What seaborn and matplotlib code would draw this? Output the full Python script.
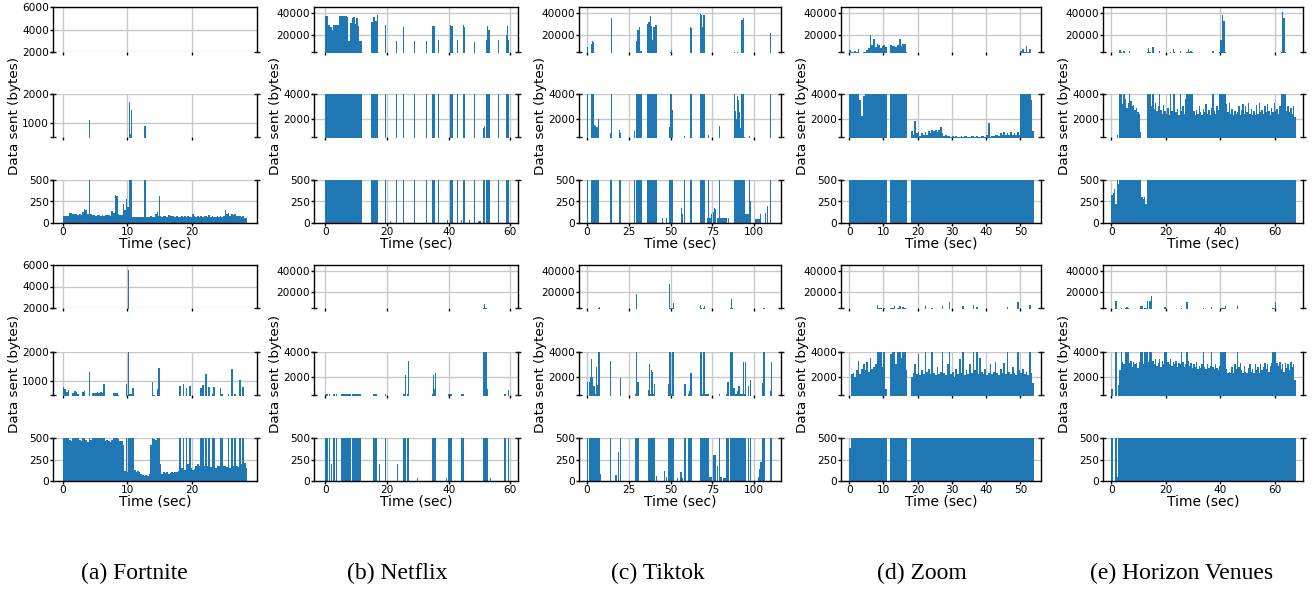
import numpy as np
import matplotlib
matplotlib.use("Agg")
import matplotlib.pyplot as plt
import seaborn as sns

# ======================= DATA =======================
# --- (a) Fortnite: bytes per 0.25 s bin, plus a few narrow spikes ---
fortnite_dt = 0.25
fortnite_r1 = [
    80, 85, 80, 85,   120, 115, 100, 105,   110, 95, 100, 90,   130, 160, 150, 100,
    95, 100, 90, 95,  85, 90, 95, 85,       90, 85, 90, 95,     90, 85, 140, 120,
    320, 310, 100, 90, 95, 220, 150, 280,   190, 600, 600, 70,  65, 70, 65, 70,
    70, 65, 70, 70,   75, 70, 80, 70,       75, 100, 130, 80,   80, 75, 85, 80,
    75, 90, 80, 85,   80, 75, 80, 70,       75, 80, 70, 80,     75, 80, 70, 75,
    100, 80, 75, 80,  70, 80, 75, 85,       80, 70, 90, 75,     80, 75, 70, 80,
    75, 80, 70, 85,   150, 100, 120, 80,    110, 90, 100, 80,   85, 80, 75, 80,
    60, 55]
fortnite_r1_spk_start = [4.0, 10.2, 10.55, 12.6, 14.8]
fortnite_r1_spk_end = [4.2, 10.4, 10.75, 12.8, 15.0]
fortnite_r1_spk_val = [1100, 1720, 1450, 870, 310]

fortnite_r2 = [
    780, 700, 620, 680,   480, 470, 560, 650,   600, 550, 480, 470,   620, 640, 480, 450,
    1300, 480, 560, 580,  560, 600, 570, 590,   580, 900, 460, 480,   470, 450, 480, 570,
    560, 580, 490, 470,   470, 420, 120, 880,   100, 520, 520, 750,   130, 110, 120, 100,
    80, 70, 60, 70,       60, 80, 420, 960,     490, 480, 700, 1450,  200, 80, 100, 90,
    100, 80, 90, 100,     90, 100, 110, 120,    820, 150, 880, 130,   760, 200, 830, 150,
    130, 140, 180, 200,   170, 760, 850, 180,   1230, 180, 790, 160,  520, 780, 150, 180,
    170, 760, 520, 170,   180, 160, 520, 150,   1400, 180, 520, 170,  160, 1030, 200, 780,
    210, 150]
fortnite_r2_spk_start = [10.1]
fortnite_r2_spk_end = [10.3]
fortnite_r2_spk_val = [5500]

# --- (b) Netflix: bursts (start s, end s, bytes) ---
netflix_r1_start = [0.0, 1.0, 1.5, 2.0, 2.5, 4.5, 5.0, 7.0, 7.3, 8.0, 8.5, 9.0, 9.5, 10.0, 10.5, 11.0,
                    14.9, 15.5, 16.2, 16.6, 19.2, 21.1, 23.0, 25.2, 27.0, 27.3, 28.7, 30.3, 30.9, 32.7,
                    34.7, 36.7, 39.6, 40.3, 40.8, 42.7, 44.1, 44.6, 44.9, 46.7, 48.1, 49.5, 51.3, 51.6,
                    52.2, 52.5, 52.9, 56.0, 58.7, 59.0, 59.3]
netflix_r1_end = [1.0, 1.5, 2.0, 2.5, 4.5, 5.0, 7.0, 7.3, 8.0, 8.5, 9.0, 9.5, 10.0, 10.5, 11.0, 12.0,
                  15.5, 16.2, 16.6, 17.1, 19.8, 21.2, 23.3, 25.6, 27.15, 27.4, 29.0, 30.5, 31.1, 33.0,
                  35.7, 37.0, 39.7, 40.8, 41.3, 43.0, 44.2, 44.9, 45.2, 46.9, 48.4, 50.6, 51.5, 51.9,
                  52.5, 52.9, 53.3, 56.3, 59.0, 59.3, 59.5]
netflix_r1_val = [37000, 29000, 27000, 24000, 29000, 37000, 37500, 36000, 14000, 31000, 35000, 36000,
                  30000, 35000, 28000, 14000, 32000, 36000, 33000, 38000, 29000, 20, 14000, 27000, 900,
                  50, 14000, 30, 30, 14000, 28000, 15000, 30, 29000, 28000, 15000, 30, 29000, 27000, 30,
                  13000, 25, 1200, 1400, 15000, 28000, 24000, 15000, 20000, 28000, 15000]

netflix_r2_start = [0.0, 1.3, 1.8, 2.5, 3.5, 4.6, 4.9, 5.2, 8.5, 9.6, 10.6, 15.5, 17.4, 19.3, 19.9, 23.2,
                    25.3, 25.9, 26.4, 26.8, 29.8, 33.8, 34.7, 35.0, 35.2, 35.5, 39.1, 39.9, 43.6, 44.0,
                    45.2, 51.1, 51.5, 51.7, 52.4, 53.4, 58.1, 59.1]
netflix_r2_end = [0.9, 1.5, 2.2, 3.0, 3.7, 4.8, 5.2, 8.4, 9.5, 10.5, 11.7, 16.8, 17.6, 19.8, 20.0, 23.4,
                  25.9, 26.1, 26.8, 27.1, 29.9, 34.0, 35.0, 35.2, 35.5, 35.8, 39.3, 41.0, 43.8, 45.1,
                  45.4, 51.5, 51.7, 52.4, 52.9, 53.6, 58.6, 59.5]
netflix_r2_val = [620, 620, 200, 600, 600, 600, 900, 610, 620, 610, 600, 620, 200, 600, 40, 200,
                  600, 2100, 620, 3300, 40, 200, 600, 2100, 1000, 2300, 40, 600, 40, 600,
                  200, 4100, 8000, 4100, 1000, 40, 600, 900]

# --- (c) Tiktok: bursts ---
tiktok_r1_start = [0.0, 1.1, 2.1, 2.6, 3.0, 3.6, 4.2, 4.9, 5.4, 6.6, 14.0, 14.2, 17.9, 18.3, 19.4, 20.0,
                   28.0, 28.6, 29.4, 30.0, 30.9, 31.6, 35.8, 36.6, 37.4, 38.2, 39.0, 39.6, 40.4, 45.1,
                   46.5, 47.5, 49.2, 49.6, 50.2, 50.8, 56.4, 57.0, 58.0, 58.4, 58.9, 61.6, 62.3, 67.6,
                   68.2, 68.8, 69.6, 71.6, 72.4, 72.8, 74.4, 75.4, 76.0, 76.6, 77.0, 77.6, 79.0, 79.6,
                   84.6, 85.4, 86.4, 87.6, 88.2, 88.6, 89.2, 89.8, 90.4, 91.0, 91.6, 92.2, 93.0, 93.6,
                   94.6, 97.0, 97.4, 100.6, 103.6, 104.4, 105.0, 106.6, 107.4, 109.2, 109.7]
tiktok_r1_end = [0.8, 1.3, 2.4, 3.0, 3.6, 4.2, 4.9, 5.4, 6.6, 7.4, 14.2, 15.0, 18.1, 18.6, 19.8, 20.4,
                 28.4, 28.9, 30.0, 30.9, 31.6, 32.6, 36.6, 37.4, 38.2, 39.0, 39.6, 40.4, 41.6, 45.3,
                 46.7, 47.7, 49.6, 50.2, 50.8, 51.6, 56.8, 57.3, 58.4, 58.8, 59.2, 62.3, 63.0, 68.2,
                 68.8, 69.6, 70.6, 72.4, 72.8, 74.0, 74.8, 75.8, 76.4, 76.9, 77.4, 79.0, 79.4, 83.6,
                 85.0, 85.8, 86.8, 88.2, 88.6, 89.2, 89.8, 90.4, 91.0, 91.6, 92.2, 93.0, 93.6, 94.6,
                 97.0, 97.4, 97.8, 103.6, 104.2, 104.8, 105.4, 107.2, 108.0, 109.7, 110.2]
tiktok_r1_val = [9000, 60, 1100, 12000, 14000, 13000, 1500, 1400, 1300, 2000, 800, 35000, 120, 130, 1100, 800,
                 1000, 600, 14000, 24000, 27000, 5000, 30000, 32000, 37000, 28000, 15000, 27000, 29000, 60,
                 60, 60, 1300, 4100, 6000, 2700, 180, 100, 600, 1300, 180, 27000, 26000, 39000,
                 38000, 27000, 38000, 60, 700, 60, 110, 130, 170, 160, 200, 60, 1400, 60,
                 60, 280, 600, 4100, 15000, 2600, 2000, 3800, 3500, 2500, 1200, 34000, 35000, 500,
                 100, 600, 250, 50, 100, 250, 600, 120, 200, 31000, 22000]

tiktok_r2_start = [0.0, 1.4, 2.0, 2.6, 3.0, 3.6, 5.0, 5.4, 5.8, 6.2,
                   6.8, 7.0, 7.8, 13.5, 14.1, 17.0, 18.4, 19.5, 20.1, 28.8,
                   29.2, 29.8, 36.2, 36.6, 37.2, 37.6, 38.2, 39.0, 39.6, 40.0,
                   41.4, 45.9, 47.3, 48.3, 48.7, 49.1, 49.7, 50.1, 50.7, 51.3,
                   51.9, 53.7, 55.7, 56.8, 57.7, 58.1, 60.6, 61.0, 61.8, 63.3,
                   67.4, 67.8, 68.4, 68.8, 69.4, 70.0, 70.4, 70.6, 72.8, 75.5,
                   77.5, 78.9, 79.5, 81.5, 83.3, 83.9, 85.5, 85.9, 86.7, 87.5,
                   88.7, 89.5, 90.3, 91.3, 93.0, 94.0, 94.4, 96.0, 97.2, 102.0,
                   103.0, 103.6, 104.6, 105.4, 105.6, 106.0, 109.3, 110.0]
tiktok_r2_end = [0.8, 2.0, 2.4, 3.0, 3.4, 5.0, 5.4, 5.8, 6.2, 6.6,
                 7.0, 7.8, 8.5, 14.1, 14.4, 17.8, 19.0, 20.1, 20.3, 29.2,
                 29.8, 31.0, 36.6, 37.2, 37.6, 38.2, 38.8, 39.6, 40.0, 40.8,
                 41.8, 46.9, 47.9, 48.7, 49.1, 49.7, 50.1, 50.7, 51.3, 51.9,
                 52.1, 54.3, 56.5, 57.1, 58.1, 59.2, 61.0, 61.8, 62.8, 63.5,
                 67.8, 68.4, 68.8, 69.4, 70.0, 70.4, 70.6, 72.8, 74.8, 77.3,
                 78.3, 79.5, 80.9, 82.9, 83.9, 84.7, 85.9, 86.7, 87.1, 88.7,
                 89.5, 90.3, 91.3, 93.0, 94.0, 94.4, 95.2, 97.0, 98.2, 103.0,
                 103.6, 104.4, 105.4, 105.6, 106.0, 106.4, 109.9, 110.7]
tiktok_r2_val = [1550, 1550, 1950, 3450, 1950, 1250, 600, 2750, 600, 1300,
                 4100, 5000, 80, 3300, 1550, 65, 337, 1850, 1000, 600,
                 17800, 1550, 600, 875, 3050, 600, 2500, 2400, 600, 1375,
                 60, 120, 50, 600, 1425, 27000, 4100, 600, 4100, 9200,
                 4100, 30, 100, 40, 600, 1425, 600, 800, 2300, 40,
                 600, 7000, 4100, 600, 4100, 6500, 1100, 600, 50, 300,
                 175, 600, 50, 30, 600, 1550, 4100, 12600, 4100, 1100,
                 600, 850, 1200, 600, 3200, 600, 3150, 1250, 1750, 50,
                 140, 220, 1500, 4100, 13800, 4100, 800, 3200]

# --- (d) Zoom: bytes per 0.5 s bin ---
zoom_dt = 0.5
zoom_r1 = [
    6000, 4100, 4100, 5500,   4100, 6500, 3500, 2200,   3800, 4100, 6000, 8000,
    20000, 11000, 16000, 9000, 12000, 11000, 8000, 10000, 11000, 9000, 0, 0,
    11000, 10000, 10000, 9000, 11000, 16000, 10000, 12000, 12000, 4100, 0, 0,
    1000, 700, 1800, 800,     900, 600, 800, 700,       900, 700, 1000, 800,
    1100, 1000, 1100, 900,    1100, 1300, 800, 600,     700, 550, 600, 520,
    550, 520, 600, 530,       520, 550, 530, 560,       550, 520, 540, 600,
    550, 520, 580, 540,       520, 560, 600, 540,       700, 1600, 520, 600,
    550, 650, 700, 600,       800, 650, 900, 700,       800, 650, 900, 700,
    800, 650, 900, 700,       5500, 7000, 4100, 10000,  4100, 7000, 3500, 1000]
zoom_r2 = [
    380, 2200, 2300, 2000,    2500, 3300, 2200, 2600,   3000, 2500, 3200, 2400,
    3500, 2600, 2800, 3000,   7000, 4100, 4000, 2800,   4100, 1000, 0, 0,
    3800, 4100, 6000, 3000,   4100, 6000, 3500, 5500,   4100, 2500, 0, 0,
    2000, 2300, 3000, 2200,   3800, 2100, 2500, 2200,   6000, 2400, 2600, 2200,
    4000, 2300, 2100, 2800,   2200, 2400, 6000, 2300,   2100, 3000, 10000, 2200,
    2400, 2000, 2600, 2200,   3400, 2300, 6000, 2100,   2500, 2200, 3000, 2300,
    7000, 2500, 5500, 2200,   3500, 2400, 2200, 2600,   2100, 2300, 3000, 2200,
    2400, 3200, 2300, 2100,   2600, 2300, 3100, 2200,   5500, 2400, 2200, 2800,
    2300, 2100, 10000, 2500,  2300, 2600, 2200, 2400,   2100, 7000, 2300, 1500]

# --- (e) Horizon Venues: bytes per 0.5 s bin ---
horizon_dt = 0.5
horizon_r1 = [
    320, 350, 400, 220,     700, 450, 6000, 4100,    3200, 5000, 3600, 2900,   3300, 5000, 3400, 3000,
    3100, 2700, 2900, 2500, 2400, 900, 300, 280,     300, 220, 4100, 8000,     4100, 3000, 9000, 2800,
    3300, 2600, 3000, 5000, 2700, 2400, 3100, 2600,  2400, 2900, 2300, 4100,   2600, 7000, 4100, 2500,
    2800, 2300, 5000, 2600, 3000, 2400, 3600, 4100,  7000, 4100, 5500, 4100,   2600, 2300, 2700, 2400,
    3000, 2500, 2300, 2800, 2500, 3200, 2400, 2700,  2300, 2900, 5000, 2600,   2400, 3000, 2700, 4100,
    15000, 38000, 33000, 4100, 3200, 2500, 3300, 2400, 2800, 2300, 2600, 2400, 2500, 3000, 2300, 2700,
    3200, 2400, 3000, 2500, 3300, 2400, 2800, 2300,  2600, 2300, 3100, 2400,   3300, 2500, 2700, 2400,
    3000, 2500, 3200, 2600, 2300, 2900, 2500, 3300,  2600, 2800, 2400, 3000,   4100, 41000, 35000, 4100,
    2600, 3000, 2500, 2900, 2400, 3000, 2100]
horizon_r2 = [
    1000, 0, 0, 11000,      50, 1300, 2500, 4100,    3200, 3000, 4100, 5500,   4100, 3100, 3300, 2800,
    3200, 3000, 3100, 2700, 3200, 6000, 6000, 3000,  4100, 4100, 11000, 3200,  11000, 16000, 3300, 3000,
    3400, 2900, 3100, 3400, 2800, 3300, 3000, 5000,  4100, 3200, 3000, 3400,   2900, 3200, 3000, 3300,
    2800, 3100, 3000, 4100, 3200, 2800, 3000, 10000, 3300, 2900, 3100, 2700,   3000, 2800, 3200, 2600,
    2900, 2700, 3000, 4100, 2800, 2600, 3000, 2700,  2900, 5000, 2800, 2600,   3000, 2700, 2500, 2900,
    4100, 4100, 4100, 6000, 2600, 2300, 2400, 2300,  2800, 2300, 3000, 2600,   6500, 2800, 3100, 2500,
    2300, 2900, 2400, 2300, 2700, 3000, 2400, 2600,  2300, 3000, 2500, 2800,   2300, 3000, 2500, 2800,
    3100, 2600, 3000, 2400, 2900, 3100, 4100, 4100,  10000, 3100, 2900, 3200,  2600, 3000, 2400, 3100,
    2700, 3000, 2500, 3200, 2800, 3000, 1700]

captions = ["(a) Fortnite", "(b) Netflix", "(c) Tiktok", "(d) Zoom", "(e) Horizon Venues"]

# ======================= STYLE / LAYOUT =======================
BLUE = "#1f77b4"
W, H = 1312, 590
sns.set_theme(style="whitegrid", rc={
    "axes.edgecolor": "black", "axes.linewidth": 1.0,
    "grid.color": "#c8c8c8", "grid.linewidth": 1.0,
    "xtick.bottom": True, "ytick.left": True,
    "xtick.color": "black", "ytick.color": "black",
    "xtick.major.size": 2.0, "ytick.major.size": 2.2,
    "xtick.major.width": 1.0, "ytick.major.width": 1.0,
    "xtick.major.pad": 0.8, "ytick.major.pad": 0.8,
    "xtick.labelsize": 7.6, "ytick.labelsize": 7.6,
    "axes.labelcolor": "black", "text.color": "black",
})
plt.rcParams["font.family"] = ["DejaVu Sans"]

COL_X = [(53, 257), (314, 518), (579, 781), (841, 1041), (1103, 1303)]
ROW_Y = [[(7, 52), (94, 137), (180, 223)], [(265, 308), (352, 395), (438, 481)]]
CAPTION_X = [134, 397, 658, 922, 1182]

BIG_LIMS = [(4200, 45500), (500, 4000), (0, 500)]
BIG_TICKS = [[20000, 40000], [2000, 4000], [0, 250, 500]]
FN_LIMS = [(2000, 6000), (500, 2000), (0, 500)]
FN_TICKS = [[2000, 4000, 6000], [1000, 2000], [0, 250, 500]]


def grid_series(vals, dt):
    v = np.asarray(vals, float)
    s = np.arange(len(v)) * dt
    return s, s + dt, v


def burst_series(start, end, val):
    assert len(start) == len(end) == len(val), (len(start), len(end), len(val))
    return np.asarray(start, float), np.asarray(end, float), np.asarray(val, float)


def draw(ax, starts, ends, vals):
    edges = np.unique(np.round(np.concatenate([starts, ends]), 6)).tolist()
    mids = (starts + ends) / 2.0
    sns.histplot(x=mids, weights=vals, bins=edges, element="step", fill=True,
                 color=BLUE, alpha=1, linewidth=0, ax=ax)


groups = [
    dict(col=0, lims=FN_LIMS, ticks=FN_TICKS, xlim=(-1.5, 30.0), xticks=[0, 10, 20],
         rows=[[grid_series(fortnite_r1, fortnite_dt),
                burst_series(fortnite_r1_spk_start, fortnite_r1_spk_end, fortnite_r1_spk_val)],
               [grid_series(fortnite_r2, fortnite_dt),
                burst_series(fortnite_r2_spk_start, fortnite_r2_spk_end, fortnite_r2_spk_val)]]),
    dict(col=1, lims=BIG_LIMS, ticks=BIG_TICKS, xlim=(-3.7, 62.5), xticks=[0, 20, 40, 60],
         rows=[[burst_series(netflix_r1_start, netflix_r1_end, netflix_r1_val)],
               [burst_series(netflix_r2_start, netflix_r2_end, netflix_r2_val)]]),
    dict(col=2, lims=BIG_LIMS, ticks=BIG_TICKS, xlim=(-4.8, 116.0), xticks=[0, 25, 50, 75, 100],
         rows=[[burst_series(tiktok_r1_start, tiktok_r1_end, tiktok_r1_val)],
               [burst_series(tiktok_r2_start, tiktok_r2_end, tiktok_r2_val)]]),
    dict(col=3, lims=BIG_LIMS, ticks=BIG_TICKS, xlim=(-2.4, 56.0), xticks=[0, 10, 20, 30, 40, 50],
         rows=[[grid_series(zoom_r1, zoom_dt)], [grid_series(zoom_r2, zoom_dt)]]),
    dict(col=4, lims=BIG_LIMS, ticks=BIG_TICKS, xlim=(-3.0, 70.2), xticks=[0, 20, 40, 60],
         rows=[[grid_series(horizon_r1, horizon_dt)], [grid_series(horizon_r2, horizon_dt)]]),
]

fig = plt.figure(figsize=(W / 100, H / 100), dpi=100)

for g in groups:
    x0, x1 = COL_X[g["col"]]
    for r, series in enumerate(g["rows"]):
        for k, (y0, y1) in enumerate(ROW_Y[r]):
            ax = fig.add_axes([x0 / W, 1 - y1 / H, (x1 - x0) / W, (y1 - y0) / H])
            for s in series:
                draw(ax, *s)
            ax.set_xlim(*g["xlim"])
            ax.set_ylim(*g["lims"][k])
            ax.set_xticks(g["xticks"])
            ax.set_yticks(g["ticks"][k])
            ax.set_xlabel("")
            ax.set_ylabel("")
            ax.grid(True, color="#c8c8c8", linewidth=1.0)
            ax.set_axisbelow(True)
            for sp in ax.spines.values():
                sp.set_color("black")
                sp.set_linewidth(1.0)
            mk = dict(marker="_", markersize=5, color="k", mew=1.0, linestyle="none",
                      clip_on=False, transform=ax.transAxes)
            if k == 0:
                ax.spines["bottom"].set_visible(False)
                ax.plot([0, 1], [0, 0], **mk)
            elif k == 1:
                ax.spines["top"].set_visible(False)
                ax.spines["bottom"].set_visible(False)
                ax.plot([0, 1, 0, 1], [0, 0, 1, 1], **mk)
                ax.set_ylabel("Data sent (bytes)", fontsize=9.7, labelpad=0.8)
            else:
                ax.spines["top"].set_visible(False)
                ax.plot([0, 1], [1, 1], **mk)
                ax.set_xlabel("Time (sec)", fontsize=10, labelpad=-0.5)
            if k < 2:
                ax.tick_params(axis="x", labelbottom=False)

for cx, cap in zip(CAPTION_X, captions):
    fig.text(cx / W, 1 - 573 / H, cap, ha="center", va="center",
             family=["Liberation Serif", "DejaVu Serif"], fontsize=17)

fig.savefig("out.png", dpi=100)
